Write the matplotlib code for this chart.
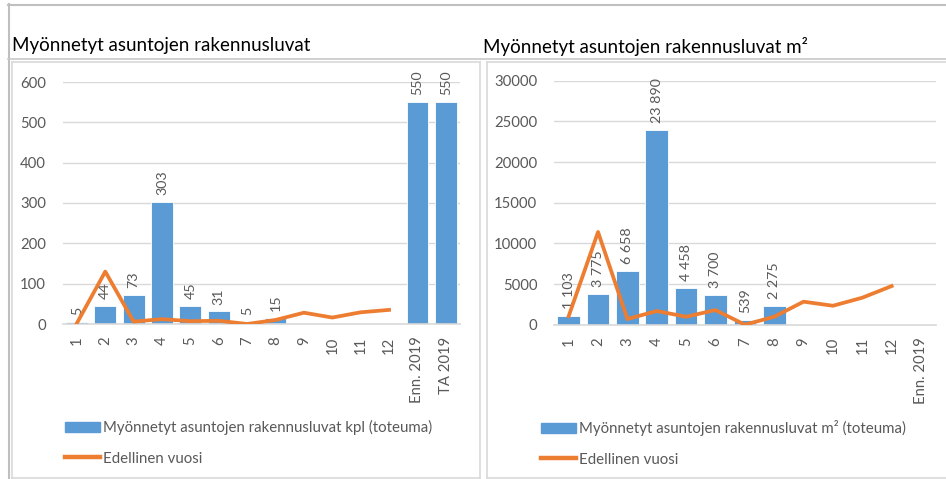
import matplotlib
matplotlib.use("Agg")
import matplotlib.pyplot as plt
from matplotlib.lines import Line2D
from matplotlib.patches import Patch
import numpy as np

plt.rcParams['font.family'] = ['Lato', 'DejaVu Sans']

# ---- data ----
cats_left = ["1", "2", "3", "4", "5", "6", "7", "8", "9", "10", "11", "12", "Enn. 2019", "TA 2019"]
bars_left = [5, 44, 73, 303, 45, 31, 5, 15, None, None, None, None, 550, 550]
prev_left = [2, 130, 6, 12, 7, 8, 0, 10, 28, 16, 29, 35]

cats_right = ["1", "2", "3", "4", "5", "6", "7", "8", "9", "10", "11", "12", "Enn. 2019"]
bars_right = [1103, 3775, 6658, 23890, 4458, 3700, 539, 2275, None, None, None, None, None]
prev_right = [1050, 11400, 700, 1680, 980, 1800, 0, 980, 2830, 2330, 3320, 4750]

title_left = "Myönnetyt asuntojen rakennusluvat"
title_right = "Myönnetyt asuntojen rakennusluvat m²"
legend_bar_left = "Myönnetyt asuntojen rakennusluvat kpl (toteuma)"
legend_bar_right = "Myönnetyt asuntojen rakennusluvat m² (toteuma)"
legend_line = "Edellinen vuosi"

BAR = "#5b9bd5"
LINE = "#ed7d31"
GRID = "#d9d9d9"
TXT = "#595959"

W, H = 946, 479
fig = plt.figure(figsize=(W / 100, H / 100), dpi=100)


def fx(x):
    return x / W


def fy(y):
    return 1 - y / H


def fmt_space(v):
    return f"{v:,}".replace(",", " ")


def make_panel(rect, cats, bars, prev, ymax, ystep, fmt, leg_bar, leg_xy):
    x0, y0, x1, y1 = rect
    ax = fig.add_axes([fx(x0), fy(y1), fx(x1 - x0), (y1 - y0) / H])
    n = len(cats)
    xs = np.arange(n)
    bx = [i for i, b in enumerate(bars) if b is not None]
    bv = [bars[i] for i in bx]
    ax.bar(bx, bv, width=0.77, color=BAR, edgecolor="white", linewidth=0.6, zorder=2)
    for i, v in zip(bx, bv):
        ax.annotate(fmt(v), (i, v), xytext=(0, 5), textcoords="offset points",
                    rotation=90, ha="center", va="bottom", fontsize=10.3, color=TXT)
    ax.plot(np.arange(len(prev)), prev, color=LINE, lw=2.7, zorder=3,
            solid_joinstyle="round")
    ax.set_xlim(-0.5, n - 0.5)
    ax.set_ylim(0, ymax)
    ax.set_yticks(np.arange(0, ymax + 1, ystep))
    ax.set_xticks(xs)
    ax.set_xticklabels(cats, rotation=90)
    ax.tick_params(axis="both", length=0, labelsize=10.7, colors=TXT)
    ax.tick_params(axis="x", pad=9)
    ax.tick_params(axis="y", pad=12)
    for s in ["top", "right", "left"]:
        ax.spines[s].set_visible(False)
    ax.spines["bottom"].set_color(GRID)
    ax.spines["bottom"].set_linewidth(1.2)
    ax.grid(axis="y", color=GRID, lw=1.0, zorder=0)
    ax.set_axisbelow(True)
    handles = [Patch(facecolor=BAR, edgecolor=BAR),
               Line2D([0], [0], color=LINE, lw=3.2)]
    fig.legend(handles, [leg_bar, legend_line], loc="upper left",
               bbox_to_anchor=(fx(leg_xy[0]), fy(leg_xy[1])), frameon=False,
               fontsize=10.8, labelcolor=TXT, handlelength=2.35, handleheight=0.7,
               handletextpad=0.2, labelspacing=1.1, borderpad=0, borderaxespad=0)
    return ax


make_panel((62.7, 82, 460, 324), cats_left, bars_left, prev_left, 600, 100,
           lambda v: str(v), legend_bar_left, (65, 420))
make_panel((554, 80.7, 935.7, 324.7), cats_right, bars_right, prev_right, 30000, 5000,
           fmt_space, legend_bar_right, (541, 420))

# titles
fig.text(fx(12), fy(46), title_left, fontsize=13.5, color="black", va="center", ha="left")
fig.text(fx(483), fy(46), title_right, fontsize=13.5, color="black", va="center", ha="left")

# frame lines
def hline(y, xa, xb, c, lw=1.2):
    fig.add_artist(Line2D([fx(xa), fx(xb)], [fy(y), fy(y)], color=c, lw=lw))


def vline(x, ya, yb, c, lw=1.2):
    fig.add_artist(Line2D([fx(x), fx(x)], [fy(ya), fy(yb)], color=c, lw=lw))


hline(4.5, 8, W, "#bfbfbf", 1.5)
vline(8.5, 4, H, "#bfbfbf", 1.5)
hline(58.5, 8, W, "#c8c8c8", 1.2)
# left box
hline(61.5, 11.5, 479.5, GRID)
vline(11.5, 61.5, 477.5, GRID)
vline(479.5, 61.5, 477.5, GRID)
hline(477.5, 11.5, 479.5, GRID)
# right box
hline(61.5, 487, W, GRID)
vline(487, 61.5, 477.5, GRID)
hline(477.5, 487, W, GRID)

fig.savefig("out.png", dpi=100)
